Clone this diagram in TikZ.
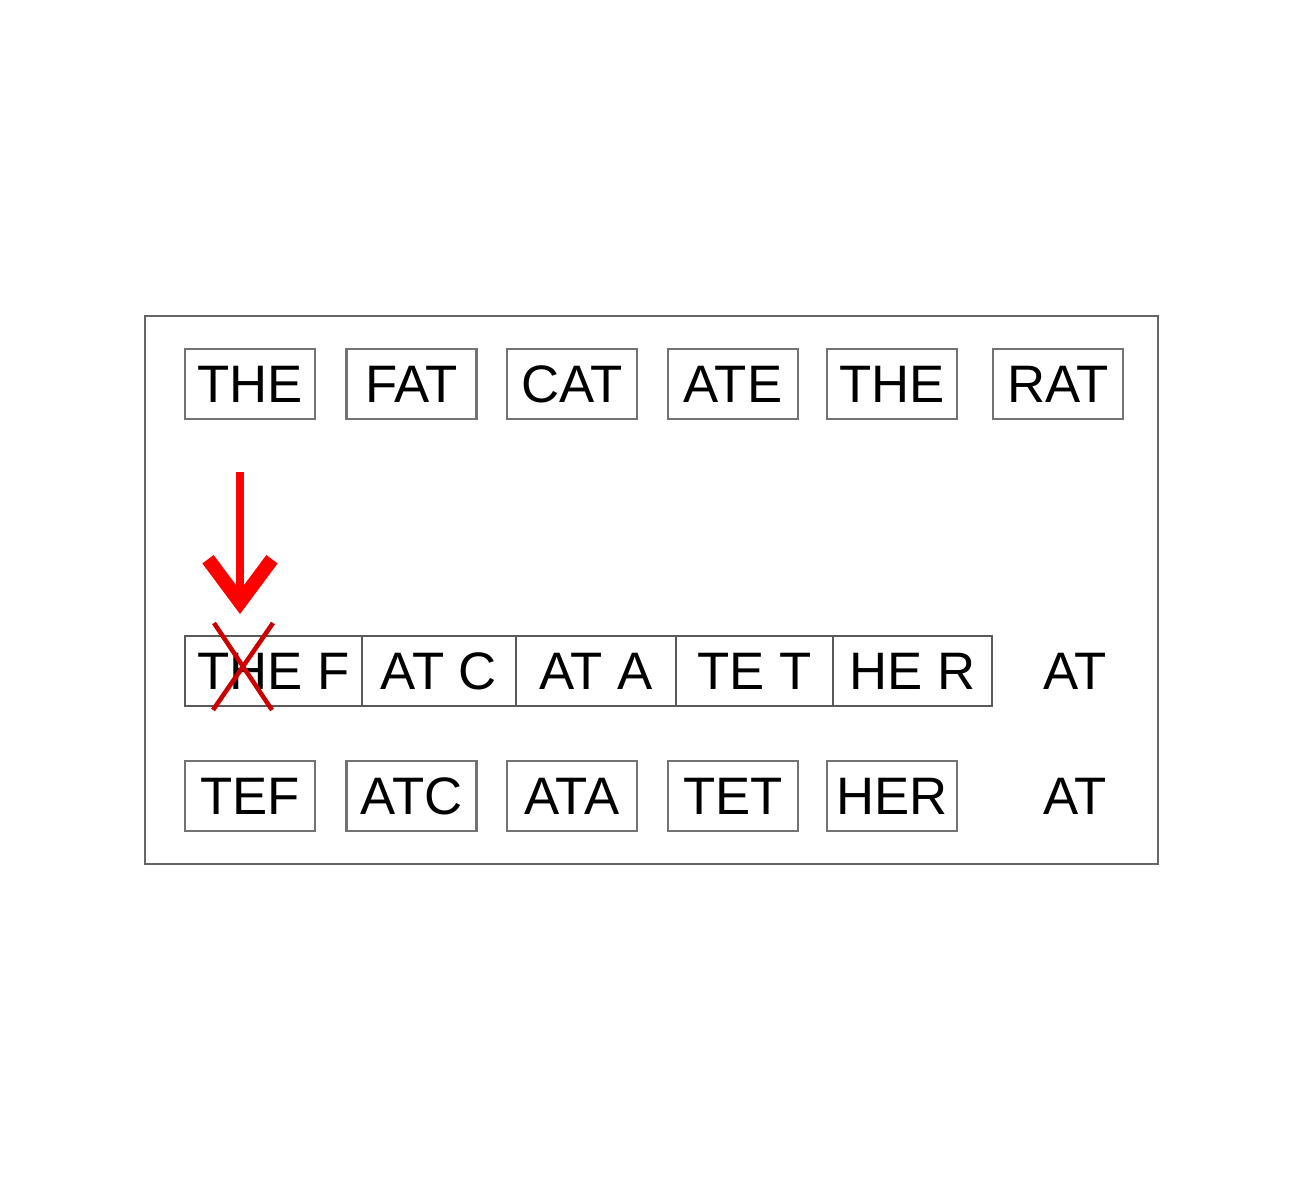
\documentclass[tikz,border=0pt]{standalone}
\usepackage{fontspec}
\setmainfont{Liberation Sans}
\usetikzlibrary{positioning,arrows.meta}

\tikzset{
  wordbox/.style={draw=gray!90!black, line width=0.6pt, minimum width=13mm, minimum height=7mm,
    inner sep=0pt, outer sep=0pt, font=\fontsize{15}{18}\selectfont},
  cellbox/.style={wordbox, draw=gray!70!black, anchor=west},
  loneword/.style={inner sep=0pt, font=\fontsize{15}{18}\selectfont},
}

\begin{document}
\begin{tikzpicture}[x=0.1mm,y=-0.1mm]
    \useasboundingbox (0,0) rectangle (1312,1200);

    % Рамка
    \draw[gray!80!black, line width=0.7pt] (145,316) rectangle (1158,864);

    % Исходная фраза
    \foreach \w/\x [count=\i] in {THE/250, FAT/411.5, CAT/572, ATE/733, THE/892, RAT/1058}
        \node[wordbox] (top\i) at (\x,384) {\w};

    % Сдвинутая рамка считывания
    \node[cellbox, minimum width=17.7mm] (mid1) at (185,671) {THE F};
    \node[cellbox, minimum width=15.4mm, right=0pt of mid1] (mid2) {AT C};
    \node[cellbox, minimum width=16mm, right=0pt of mid2] (mid3) {AT A};
    \node[cellbox, minimum width=15.7mm, right=0pt of mid3] (mid4) {TE T};
    \node[cellbox, minimum width=15.9mm, right=0pt of mid4] (mid5) {HE R};
    \node[loneword] (mid6) at (1075,671) {AT};

    % Результат
    \foreach \w/\x [count=\i] in {TEF/250, ATC/411.5, ATA/572, TET/733, HER/892}
        \node[wordbox] (bot\i) at (\x,796) {\w};
    \node[loneword] (bot6) at (1075,796) {AT};

    % Стрелка и вычеркнутая буква
    \coordinate (arrowtop) at (240,472);
    \coordinate (arrowtip) at (240,614);
    \draw[red, line width=2.4pt, -{Straight Barb[length=4.3mm, width=6.4mm, line width=4pt]}]
        (arrowtop) -- (arrowtip);
    \draw[red!80!black, line width=1.3pt] (214,623) -- (272,710);
    \draw[red!80!black, line width=1.3pt] (273,623) -- (213,710);
\end{tikzpicture}
\end{document}
